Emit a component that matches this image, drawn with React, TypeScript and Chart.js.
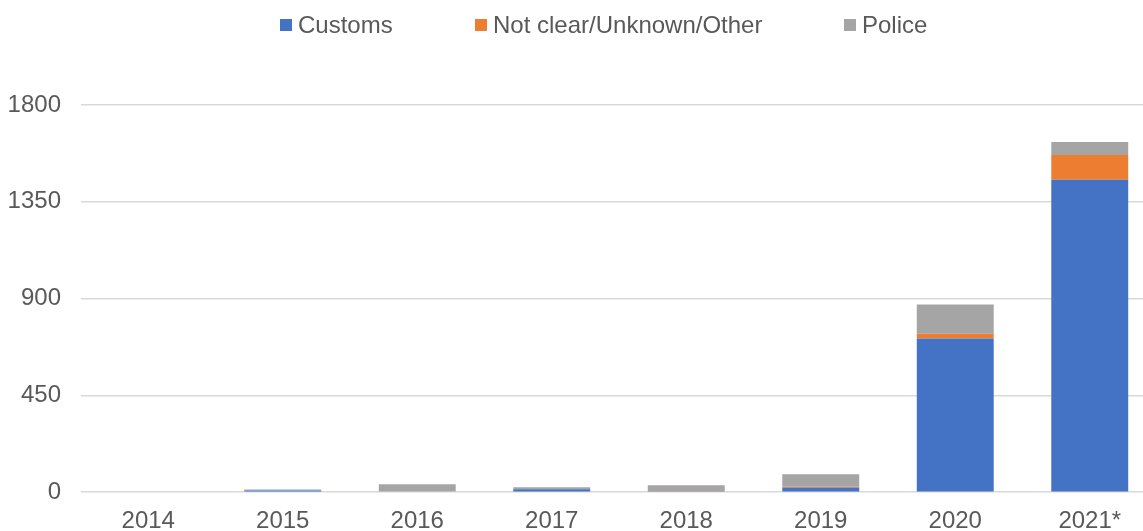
import React, { useEffect, useRef } from "react";
import { Chart, registerables } from "chart.js";

Chart.register(...registerables);

const categories = ["2014", "2015", "2016", "2017", "2018", "2019", "2020", "2021*"];
const customs = [0, 8, 0, 14, 4, 22, 714, 1452];
const notClear = [0, 0, 0, 0, 2, 5, 23, 116];
const police = [0, 5, 37, 9, 26, 56, 135, 60];
const yTicks = [0, 450, 900, 1350, 1800];

const seriesNames = ["Customs", "Not clear/Unknown/Other", "Police"];
const seriesColors = ["#4472C4", "#ED7D31", "#A5A5A5"];

const FONT = "'Liberation Sans', Arial, sans-serif";
const TEXT = "#595959";

export default function App() {
  const ref = useRef<HTMLCanvasElement | null>(null);

  useEffect(() => {
    if (!ref.current) return;
    const chart = new Chart(ref.current, {
      type: "bar",
      data: {
        labels: categories,
        datasets: [customs, notClear, police].map((d, i) => ({
          label: seriesNames[i],
          data: d,
          backgroundColor: seriesColors[i],
          borderWidth: 0,
          categoryPercentage: 1,
          barPercentage: 0.572,
        })),
      },
      options: {
        responsive: false,
        animation: false,
        layout: { padding: { left: 8, right: 3, top: 105, bottom: 3 } },
        plugins: { legend: { display: false }, tooltip: { enabled: false } },
        scales: {
          x: {
            stacked: true,
            grid: { display: false, drawTicks: false },
            border: { display: false },
            ticks: { color: TEXT, font: { family: FONT, size: 24 }, padding: 15 },
          },
          y: {
            stacked: true,
            min: 0,
            max: 1800,
            afterBuildTicks: (axis: any) => {
              axis.ticks = yTicks.map((v) => ({ value: v }));
            },
            afterFit: (axis: any) => {
              axis.width = 73;
            },
            grid: { color: "#D9D9D9", lineWidth: 1.5, drawTicks: false },
            border: { display: false },
            ticks: {
              color: TEXT,
              font: { family: FONT, size: 24 },
              padding: 20,
              callback: (v: any) => String(v),
            },
          },
        },
      },
    });
    return () => chart.destroy();
  }, []);

  const legendLeft = [280, 475, 844];

  return (
    <div
      style={{
        position: "fixed",
        left: 0,
        top: 0,
        width: 1143,
        height: 531,
        overflow: "hidden",
        background: "#fff",
      }}
    >
      <canvas ref={ref} width={1160} height={554} style={{ position: "absolute", left: 0, top: 0, width: 1160, height: 554 }} />
      {seriesNames.map((name, i) => (
        <div
          key={name}
          style={{
            position: "absolute",
            left: legendLeft[i],
            top: 10,
            display: "flex",
            alignItems: "center",
            fontFamily: FONT,
            fontSize: 24,
            lineHeight: "29px",
            color: TEXT,
            whiteSpace: "nowrap",
          }}
        >
          <span style={{ display: "inline-block", width: 12, height: 12, background: seriesColors[i], marginRight: 6 }} />
          <span>{name}</span>
        </div>
      ))}
    </div>
  );
}
